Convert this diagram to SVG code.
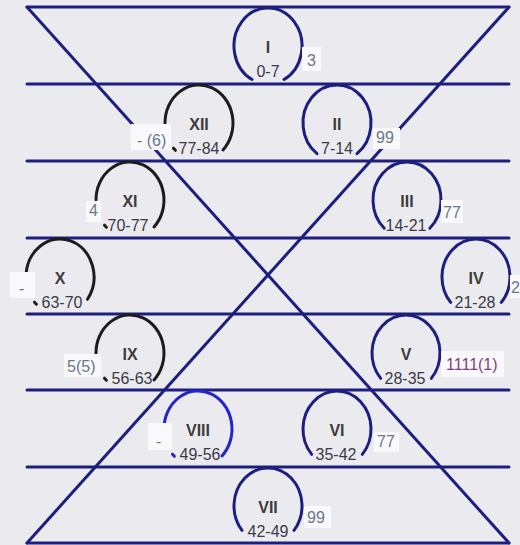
<svg xmlns="http://www.w3.org/2000/svg" width="520" height="545" viewBox="0 0 520 545">
<style>
.ln{stroke:#1e1e7e;stroke-width:3;fill:none;stroke-linecap:round}
.arc{stroke-width:3;fill:none;stroke-linecap:round}
.nv{stroke:#1e1e7e}
.bk{stroke:#1c1c1c}
.bl{stroke:#2424cc}
.rn{font-family:"Liberation Sans",Arial,sans-serif;font-size:16px;font-weight:bold;fill:#3c3c3c;text-anchor:middle}
.rg{font-family:"Liberation Sans",Arial,sans-serif;font-size:16px;fill:#3a3a48;text-anchor:middle}
.lb{font-family:"Liberation Sans",Arial,sans-serif;font-size:16px;fill:#6b7689}
.pu{fill:#80407f}
.bx{fill:#f9f9fb}
</style>
<rect x="0" y="0" width="520" height="545" fill="#ebebef"/>
<g id="connectors">
<line class="ln" x1="27" y1="7" x2="509" y2="7"/>
<line class="ln" x1="27" y1="84" x2="509" y2="84"/>
<line class="ln" x1="27" y1="161" x2="509" y2="161"/>
<line class="ln" x1="27" y1="238" x2="509" y2="238"/>
<line class="ln" x1="27" y1="314" x2="509" y2="314"/>
<line class="ln" x1="27" y1="390" x2="509" y2="390"/>
<line class="ln" x1="27" y1="467" x2="509" y2="467"/>
<line class="ln" x1="27" y1="543" x2="509" y2="543"/>
<line class="ln" x1="27" y1="7" x2="509" y2="543"/>
<line class="ln" x1="509" y1="7" x2="27" y2="543"/>
</g>
<g id="node-I">
<path class="arc nv" d="M252,79.5 A34,38 0 1 1 284,79.5"/>
<text class="rn" x="268" y="53">I</text>
<text class="rg" x="268" y="77">0-7</text>
<rect class="bx" x="302" y="47" width="19" height="24"/>
<text class="lb" x="307" y="66">3</text>
</g>
<g id="node-II">
<path class="arc nv" d="M317,153.7 A34,38 0 1 1 357,153.7"/>
<text class="rn" x="337" y="130">II</text>
<text class="rg" x="337" y="154">7-14</text>
<rect class="bx" x="373" y="128" width="27" height="21"/>
<text class="lb" x="376" y="143">99</text>
</g>
<g id="node-III">
<path class="arc nv" d="M384.2,228.2 A34,38 0 1 1 429.8,228.2"/>
<text class="rn" x="407" y="207">III</text>
<text class="rg" x="406" y="231">14-21</text>
<rect class="bx" x="441" y="200" width="22" height="23"/>
<text class="lb" x="443" y="218">77</text>
</g>
<g id="node-IV">
<path class="arc nv" d="M450.7,302.4 A34,38 0 1 1 501.3,302.4"/>
<text class="rn" x="476" y="284">IV</text>
<text class="rg" x="475" y="308">21-28</text>
<rect class="bx" x="510" y="275" width="10" height="23"/>
<text class="lb" x="511" y="293">2</text>
</g>
<g id="node-V">
<path class="arc nv" d="M380.7,378.4 A34,38 0 1 1 431.3,378.4"/>
<text class="rn" x="406" y="360">V</text>
<text class="rg" x="405" y="384">28-35</text>
<rect class="bx" x="441" y="351" width="63" height="26"/>
<text class="lb pu" x="446" y="370">1111(1)</text>
</g>
<g id="node-VI">
<path class="arc nv" d="M311.7,454.4 A34,38 0 1 1 362.3,454.4"/>
<text class="rn" x="337" y="436">VI</text>
<text class="rg" x="336" y="460">35-42</text>
<rect class="bx" x="374" y="432" width="25" height="20"/>
<text class="lb" x="377" y="447">77</text>
</g>
<g id="node-VII">
<path class="arc nv" d="M242,530.4 A34,38 0 1 1 294,530.4"/>
<text class="rn" x="268" y="513">VII</text>
<text class="rg" x="268" y="537">42-49</text>
<rect class="bx" x="304" y="506" width="27" height="22"/>
<text class="lb" x="307" y="523">99</text>
</g>
<g id="node-VIII">
<path class="arc bl" d="M164,429 A34,38 0 1 1 222,455.9"/>
<path class="arc bl" d="M174.4,456.3 A34,38 0 0 1 172.5,454.2"/>
<text class="rn" x="198" y="436">VIII</text>
<text class="rg" x="200" y="460">49-56</text>
<rect class="bx" x="148" y="423" width="24" height="27"/>
<text class="lb" x="156" y="447">-</text>
</g>
<g id="node-IX">
<path class="arc bk" d="M96,353 A34,38 0 1 1 154,379.9"/>
<path class="arc bk" d="M106.4,380.3 A34,38 0 0 1 104.5,378.2"/>
<text class="rn" x="130" y="360">IX</text>
<text class="rg" x="132" y="384">56-63</text>
<rect class="bx" x="64" y="354" width="37" height="23"/>
<text class="lb" x="67" y="372">5(5)</text>
</g>
<g id="node-X">
<path class="arc bk" d="M26,277 A34,38 0 1 1 87.5,299.3"/>
<path class="arc bk" d="M36.4,304.3 A34,38 0 0 1 34.5,302.2"/>
<text class="rn" x="60" y="284">X</text>
<text class="rg" x="62" y="308">63-70</text>
<rect class="bx" x="10" y="272" width="25" height="26"/>
<text class="lb" x="19" y="294">-</text>
</g>
<g id="node-XI">
<path class="arc bk" d="M96,200 A34,38 0 1 1 154,226.9"/>
<path class="arc bk" d="M106.4,227.3 A34,38 0 0 1 104.5,225.2"/>
<text class="rn" x="130" y="207">XI</text>
<text class="rg" x="128" y="231">70-77</text>
<rect class="bx" x="86" y="201" width="15" height="21"/>
<text class="lb" x="89" y="216">4</text>
</g>
<g id="node-XII">
<path class="arc bk" d="M165,123 A34,38 0 1 1 223,149.9"/>
<path class="arc bk" d="M175.4,150.3 A34,38 0 0 1 173.5,148.2"/>
<text class="rn" x="199" y="130">XII</text>
<text class="rg" x="199" y="154">77-84</text>
<rect class="bx" x="131" y="124" width="40" height="26"/>
<text class="lb" x="137" y="146">- (6)</text>
</g>
</svg>
